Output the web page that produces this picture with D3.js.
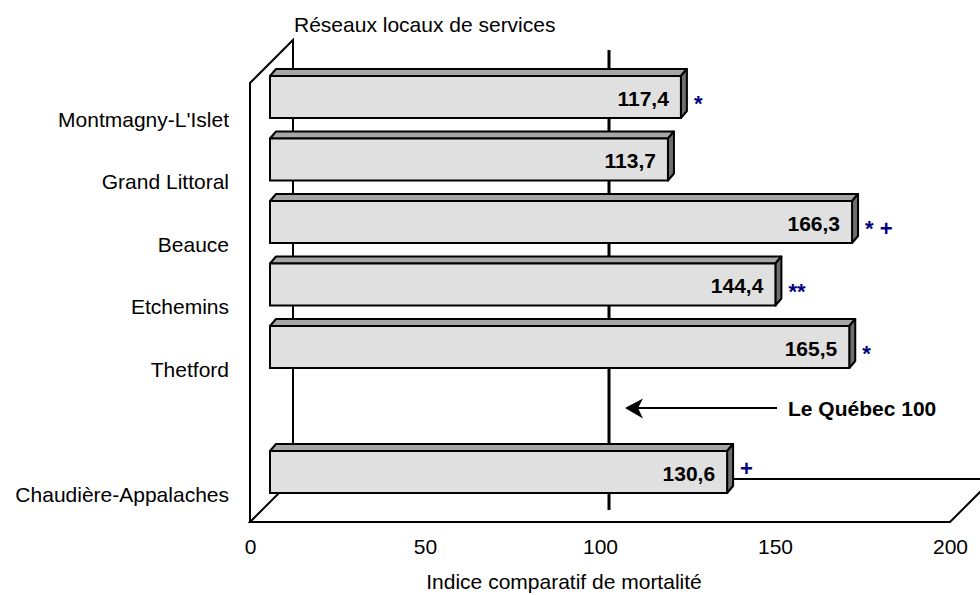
<!DOCTYPE html>
<html>
<head>
<meta charset="utf-8">
<script src="https://cdn.jsdelivr.net/npm/d3@7"></script>
<style>
  html, body { margin: 0; padding: 0; background: #ffffff; }
  svg { display: block; font-family: "Liberation Sans", Arial, sans-serif; }
</style>
</head>
<body>
<svg id="chart" width="980" height="595"></svg>
<script>
// ---- Data ----
const categories = ["Montmagny-L'Islet", "Grand Littoral", "Beauce", "Etchemins", "Thetford", "Chaudière-Appalaches"];
const values = [117.4, 113.7, 166.3, 144.4, 165.5, 130.6];
const markers = ["*", "", "* +", "**", "*", "+"];
const tickValues = [0, 50, 100, 150, 200];
const referenceValue = 100;
const referenceLabel = "Le Québec 100";
const axisTitle = "Indice comparatif de mortalité";
const chartTitle = "Réseaux locaux de services";
const regionName = "Chaudière-Appalaches";
// slot list: an empty slot separates the region from the local networks
const slots = ["Montmagny-L'Islet", "Grand Littoral", "Beauce", "Etchemins", "Thetford", "__gap__", "Chaudière-Appalaches"];

// ---- Layout ----
const svg = d3.select("#chart");
const x = d3.scaleLinear().domain([0, 200]).range([250, 950]);   // front plane
const y = d3.scalePoint().domain(slots).range([119, 494]);       // front plane rows
const wallDepth = 43;     // depth of back wall (px, 45° projection)
const wallTop = 83;
const floorY = 522;
const barDepthX = 20, barDepthY = 22;   // bars sit behind front plane
const barH = 42;
const bdx = 6, bdy = 7;                 // bar thickness
const refDepth = 9;
const regionMarkerLift = 10;
const xb = v => x(v) + barDepthX;
const cy = c => y(c) - barDepthY;

const g = svg.append("g");

// walls / floor
g.append("path")
  .attr("d", `M${x(0)},${floorY} L${x(0)},${wallTop} L${x(0)+wallDepth},${wallTop-wallDepth} L${x(0)+wallDepth},${floorY-wallDepth}`)
  .attr("fill", "none").attr("stroke", "#000").attr("stroke-width", 2);
g.append("path")
  .attr("d", `M${x(0)},${floorY} L${x(200)},${floorY} L${x(200)+wallDepth},${floorY-wallDepth} L${x(0)+wallDepth},${floorY-wallDepth} Z`)
  .attr("fill", "none").attr("stroke", "#000").attr("stroke-width", 2);

// reference line at 100
g.append("line")
  .attr("x1", x(referenceValue) + refDepth).attr("x2", x(referenceValue) + refDepth)
  .attr("y1", 50).attr("y2", 510)
  .attr("stroke", "#000").attr("stroke-width", 3);

// bars
const data = categories.map((c, i) => ({ c, v: values[i], m: markers[i] }));
const bars = g.selectAll("g.bar").data(data).enter().append("g").attr("class", "bar");

bars.append("path") // top face
  .attr("d", d => {
    const t = cy(d.c) - barH / 2, x0 = xb(0), x1 = xb(d.v);
    return `M${x0},${t} L${x0+bdx},${t-bdy} L${x1+bdx},${t-bdy} L${x1},${t} Z`;
  })
  .attr("fill", "#a6a6a6").attr("stroke", "#000").attr("stroke-width", 2).attr("stroke-linejoin", "round");
bars.append("path") // side face
  .attr("d", d => {
    const t = cy(d.c) - barH / 2, b = cy(d.c) + barH / 2, x1 = xb(d.v);
    return `M${x1},${t} L${x1+bdx},${t-bdy} L${x1+bdx},${b-bdy} L${x1},${b} Z`;
  })
  .attr("fill", "#6e6e6e").attr("stroke", "#000").attr("stroke-width", 2).attr("stroke-linejoin", "round");
bars.append("rect") // front face
  .attr("x", xb(0)).attr("y", d => cy(d.c) - barH / 2)
  .attr("width", d => xb(d.v) - xb(0)).attr("height", barH)
  .attr("fill", "#e0e0e0").attr("stroke", "#000").attr("stroke-width", 2);

bars.append("text")
  .attr("x", d => xb(d.v) - 12).attr("y", d => cy(d.c) + 8.5)
  .attr("text-anchor", "end").attr("font-size", 21).attr("font-weight", "bold").attr("fill", "#000")
  .text(d => d3.format(".1f")(d.v).replace(".", ","));

bars.append("text")
  .attr("x", d => xb(d.v) + bdx + 7)
  .attr("y", d => cy(d.c) + 14 - (d.c === regionName ? regionMarkerLift : 0))
  .attr("font-size", 22).attr("font-weight", "bold").attr("fill", "#000080")
  .attr("xml:space", "preserve")
  .text(d => d.m);

// category labels
g.selectAll("text.cat").data(categories).enter().append("text")
  .attr("class", "cat")
  .attr("x", 229).attr("y", d => y(d) + 7.5)
  .attr("text-anchor", "end").attr("font-size", 21).attr("fill", "#000")
  .text(d => d);

// x axis (tick labels only)
const axis = d3.axisBottom(x).tickValues(tickValues).tickSize(0).tickPadding(0).tickFormat(d3.format("d"));
const ax = svg.append("g").attr("transform", `translate(0,${floorY + 17})`).call(axis);
ax.select(".domain").remove();
ax.selectAll("text").attr("font-size", 21).attr("font-family", "Liberation Sans, Arial, sans-serif").attr("fill", "#000");

svg.append("text")
  .attr("x", (x(0) + x(200)) / 2 - 36).attr("y", 589)
  .attr("text-anchor", "middle").attr("font-size", 21).attr("fill", "#000")
  .text(axisTitle);

svg.append("text")
  .attr("x", x(0) + wallDepth + 1).attr("y", 32)
  .attr("font-size", 21).attr("fill", "#000")
  .text(chartTitle);

// arrow to the reference line
const arrowY = 408;
const tipX = x(referenceValue) + 25;
const tailX = x(150) + 2;
svg.append("line")
  .attr("x1", tipX + 10).attr("x2", tailX).attr("y1", arrowY).attr("y2", arrowY)
  .attr("stroke", "#000").attr("stroke-width", 2);
svg.append("path")
  .attr("d", `M${tipX},${arrowY} L${tipX+18},${arrowY-9.5} L${tipX+13},${arrowY} L${tipX+18},${arrowY+10.5} Z`)
  .attr("fill", "#000");
svg.append("text")
  .attr("x", tailX + 11).attr("y", arrowY + 8)
  .attr("font-size", 21).attr("font-weight", "bold").attr("fill", "#000")
  .text(referenceLabel);
</script>
</body>
</html>
